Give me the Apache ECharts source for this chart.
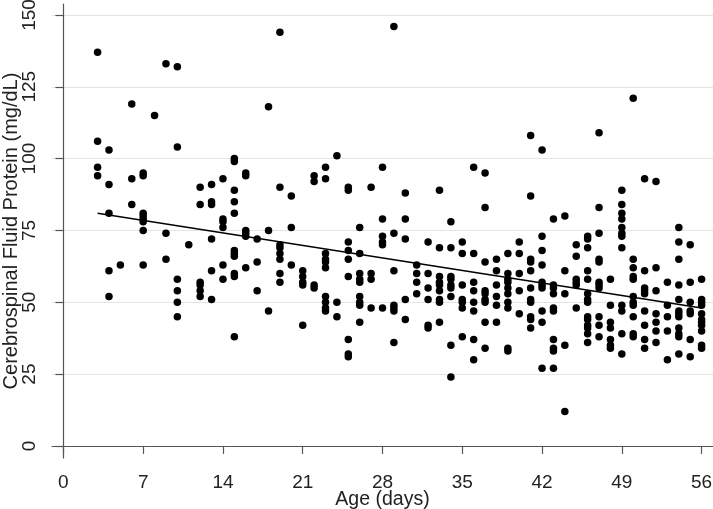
<!DOCTYPE html>
<html>
<head>
<meta charset="utf-8">
<script src="https://cdn.jsdelivr.net/npm/echarts@6/dist/echarts.min.js"></script>
<style>
html,body{margin:0;padding:0;background:#fff;}
#chart{width:713px;height:509px;}
</style>
</head>
<body>
<div id="chart"></div>
<script>
// Age in days (x) and CSF protein (mg/dL) values observed at each age
const days = [3,4,5,6,7,8,9,10,11,12,13,14,15,16,17,18,19,20,21,22,23,24,25,26,27,28,29,30,
  31,32,33,34,35,36,37,38,39,40,41,42,43,44,45,46,47,48,49,50,51,52,53,54,55,56];
const proteinByDay = [
  [137,106,97,94],
  [103,91,81,61,52],
  [63],
  [119,93,84],
  [95,94,81,80,79,78,75,63],
  [115],
  [133,74,65],
  [132,104,58,54,50,45],
  [70],
  [90,84,57,56,54,52],
  [91,85,84,72,61,51],
  [93,79,78,76,63,58],
  [100,99,89,85,81,68,67,66,60,59,38],
  [95,94,75,74,73,62],
  [72,64,54],
  [118,75,47],
  [144,90,70,69,67,65,60,57],
  [87,76,63],
  [61,59,57,56,42],
  [94,92,56,55],
  [97,93,67,65,64,62,52,50,48,47],
  [101,50,45],
  [90,89,71,68,65,59,37,32,31],
  [76,67,60,58,57,52,50,49,43],
  [90,60,58,48],
  [97,79,73,71,70,48],
  [146,74,61,49,48,47,36],
  [88,79,72,51,44],
  [63,60,57,53],
  [71,60,55,51,42,41],
  [89,69,59,57,56,54,51,50,43],
  [78,69,59,58,56,55,52,35,24],
  [71,67,56,51,50,48,38],
  [97,67,57,54,50,47,37,30],
  [95,83,64,54,53,51,50,43,34],
  [65,61,56,52,49,43],
  [67,60,58,57,55,53,50,48,34,33],
  [71,67,60,54,46],
  [108,87,65,64,61,55,51,50,45,44,41],
  [103,73,68,63,57,56,55,47,43,27],
  [79,56,55,53,48,47,37,34,33,27],
  [80,61,53,35,12],
  [70,66,58,57,56,48],
  [73,72,69,61,58,53,51,50,45,44,42,41,39,36],
  [109,83,74,65,64,57,56,55,45,42,38],
  [58,49,43,41,37,35,34],
  [89,84,81,79,76,74,73,69,49,47,39,32],
  [121,65,62,59,58,52,50,49,45,39,38],
  [93,61,55,54,53,47,42,37,34],
  [92,62,54,46,43,40,36],
  [57,49,45,40,30],
  [76,71,65,56,51,47,46,45,41,39,38,32],
  [70,57,50,47,46,37,31],
  [58,51,50,49,46,44,43,42,40,35,34]
];
// Fitted line end points (age, protein)
const fitAges = [3, 56];
const fitProtein = [81, 48];
// Tick values
const xTicks = [0,7,14,21,28,35,42,49,56];
const yTicks = [0,25,50,75,100,125,150];

const points = [];
days.forEach((d, i) => proteinByDay[i].forEach(v => points.push([d, v])));
const fitData = fitAges.map((a, i) => [a, fitProtein[i]]);

const font = 'Liberation Sans, Arial, sans-serif';
const chart = echarts.init(document.getElementById('chart'), null, {renderer: 'canvas'});
chart.setOption({
  animation: false,
  backgroundColor: '#fff',
  grid: {left: 52, right: 0, top: 4, bottom: 51, containLabel: false, outerBoundsMode: 'none'},
  xAxis: {
    type: 'value', min: -1, max: 57,
    name: 'Age (days)', nameLocation: 'middle', nameGap: 32, nameMoveOverlap: false,
    nameTextStyle: {fontFamily: font, fontSize: 19.5, color: '#222'},
    axisLine: {show: true, lineStyle: {color: '#555', width: 1.2}},
    axisTick: {show: true, length: 8, customValues: xTicks, lineStyle: {color: '#555', width: 1.2}},
    axisLabel: {customValues: xTicks, margin: 15, fontFamily: font, fontSize: 19, color: '#222'},
    splitLine: {show: false}
  },
  yAxis: {
    type: 'value', min: -4.2, max: 153.8,
    name: 'Cerebrospinal Fluid Protein (mg/dL)', nameLocation: 'middle', nameGap: 31, nameRotate: 90,
    nameMoveOverlap: false,
    nameTextStyle: {fontFamily: font, fontSize: 20, color: '#222'},
    axisLine: {show: true, lineStyle: {color: '#555', width: 1.2}},
    axisTick: {show: true, length: 8, customValues: yTicks, lineStyle: {color: '#555', width: 1.2}},
    axisLabel: {customValues: yTicks, rotate: 90, margin: 13, fontFamily: font, fontSize: 19, color: '#222'},
    splitLine: {show: true, lineStyle: {color: '#e4e4e4', width: 1.2}}
  },
  series: [
    {
      type: 'scatter', data: points, symbol: 'circle', symbolSize: 7.5,
      itemStyle: {color: '#000', opacity: 1}, z: 3
    },
    {
      type: 'line', data: fitData, symbol: 'none',
      lineStyle: {color: '#000', width: 1.4}, z: 4
    }
  ]
});
</script>
</body>
</html>
